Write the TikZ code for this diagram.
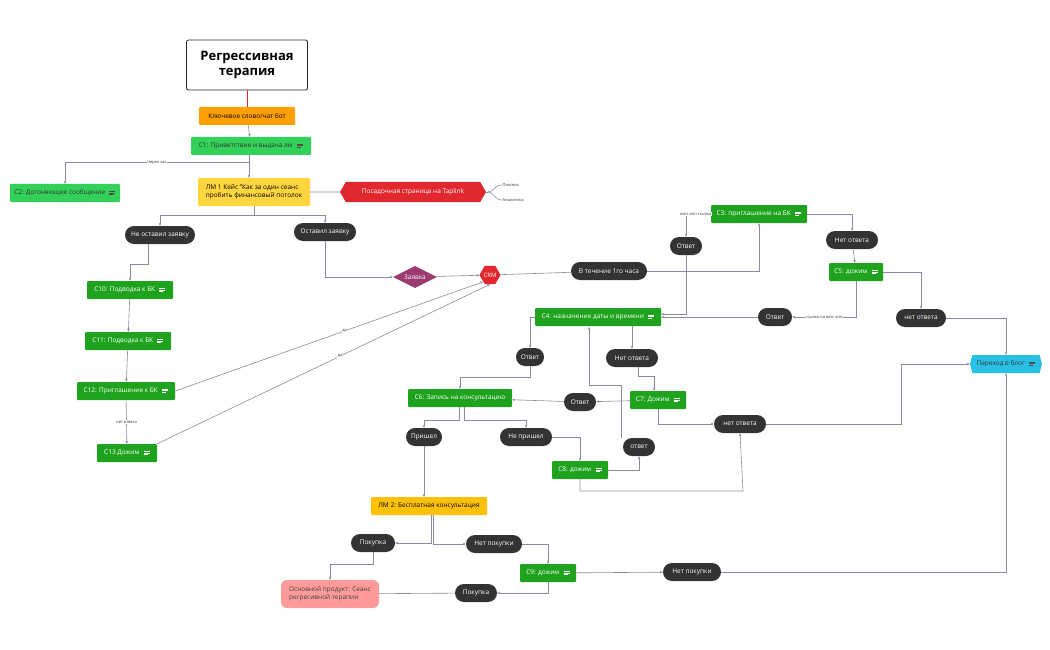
\documentclass[tikz,border=0pt]{standalone}
\usepackage{fontspec}
\setmainfont{Open Sans}
\usetikzlibrary{shapes.geometric,shapes.misc,shapes.symbols,arrows.meta,calc}
\definecolor{dg}{HTML}{1FA31F}
\definecolor{lg}{HTML}{33D15A}
\definecolor{org}{HTML}{FFA000}
\definecolor{yl}{HTML}{FFD640}
\definecolor{yl2}{HTML}{FFC107}
\definecolor{rd}{HTML}{E0282E}
\definecolor{pl}{HTML}{333333}
\definecolor{cy}{HTML}{29C0E6}
\definecolor{pk}{HTML}{FF9A9A}
\definecolor{pu}{HTML}{9B3B6F}
\definecolor{ln}{HTML}{8A8AA0}
\newcommand{\ic}[1][white]{\hspace{4pt}\tikz[baseline=0pt]{\draw[#1,line width=.5pt] (0,0.5pt)--(4pt,0.5pt) (0,2pt)--(6pt,2pt) (0,3.5pt)--(6pt,3.5pt);}}
\tikzset{
 base/.style={font=\fontsize{6.5}{8}\selectfont,inner sep=2pt,align=center},
 gbox/.style={base,fill=dg,text=white,rounded corners=1pt,minimum height=18pt,minimum width=#1},
 lbox/.style={base,fill=lg,text=black!80,rounded corners=1pt,minimum height=18pt,minimum width=#1},
 pill/.style={base,fill=pl,text=white,rounded rectangle,minimum height=18pt,minimum width=#1},
 e/.style={ln,line width=.6pt,-{Stealth[length=3pt,width=2.5pt]}},
 el/.style={ln,line width=.6pt},
 lab/.style={font=\fontsize{4}{5}\selectfont,fill=white,inner sep=.5pt,text=black!80}
}
\begin{document}
\begin{tikzpicture}[x=1pt,y=-1pt]
\useasboundingbox (0,0) rectangle (1050,650);
\node[base,draw=black!85,line width=.8pt,rounded corners=2pt,minimum width=121pt,minimum height=50pt,font=\bfseries\fontsize{13}{15}\selectfont] (title) at (247,65) {Регрессивная\\терапия};
\node[base,fill=org,rounded corners=1pt,minimum width=96pt,minimum height=18pt] (key) at (247,116) {Ключевое слово/чат бот};
\node[lbox=120pt] (c1) at (251,146) {C1: Приветствие и выдача лм\ic[black!70]};
\node[lbox=110pt] (c2) at (65,193) {C2: Догоняющее сообщение\ic[black!70]};
\node[base,fill=yl,rounded corners=1pt,minimum width=112pt,minimum height=28pt,align=left] (lm1) at (254,192) {ЛМ 1 Кейс "Как за один сеанс\\пробить финансовый потолок};
\node[base,fill=rd,text=white,signal,signal to=east and west,signal pointer angle=120,minimum width=146pt,minimum height=20pt] (tap) at (413,192) {Посадочная страница на Taplink};
\coordinate (br) at (488,192);
\node[lab,anchor=west] (pix) at (502,185) {Пиксель};
\node[lab,anchor=west] (an) at (502,200) {Аналитика};
\node[pill=74pt] (no1) at (160,235) {Не оставил заявку};
\node[pill=66pt] (yes1) at (325,232) {Оставил заявку};
\node[base,diamond,fill=pu,text=white,minimum width=44pt,minimum height=22pt,aspect=2,inner sep=0pt] (zv) at (415,277) {Заявка};
\node[base,fill=rd,text=white,regular polygon,regular polygon sides=6,minimum size=20pt,inner sep=0pt,font=\fontsize{6}{7}\selectfont] (crm) at (490,275) {CRM};
\node[pill=80pt] (hour) at (609,271) {В течение 1го часа};
\node[gbox=96pt] (c3) at (759,214) {C3: приглашение на БК\ic};
\node[pill=36pt] (o1) at (686,246) {Ответ};
\node[pill=56pt] (n1) at (852,240) {Нет ответа};
\node[gbox=54pt] (c5) at (856,272) {C5: дожим\ic};
\node[gbox=126pt] (c4) at (598,317) {C4: назначение даты и времени\ic};
\node[pill=38pt] (o2) at (775,317) {Ответ};
\node[pill=54pt] (n2) at (921,318) {нет ответа};
\node[base,fill=cy,text=black!80,signal,signal to=east and west,signal pointer angle=150,minimum width=72pt,minimum height=18pt] (blog) at (1006,364) {Переход в блог\ic[black!70]};
\node[pill=32pt] (o3) at (530,357) {Ответ};
\node[pill=56pt] (n3) at (632,358) {Нет ответа};
\node[gbox=56pt] (c7) at (658,400) {C7: Дожим\ic};
\node[pill=36pt] (o4) at (580,402) {Ответ};
\node[gbox=104pt] (c6) at (460,398) {C6: Запись на консультацию};
\node[pill=56pt] (n4) at (740,424) {нет ответа};
\node[pill=40pt] (came) at (424,437) {Пришел};
\node[pill=56pt] (nc) at (526,437) {Не пришел};
\node[pill=36pt] (o5) at (639,447) {ответ};
\node[gbox=56pt] (c8) at (580,470) {C8: дожим\ic};
\node[gbox=86pt] (c10) at (130,290) {C10: Подводка к БК\ic};
\node[gbox=86pt] (c11) at (128,341) {C11: Подводка к БК\ic};
\node[gbox=98pt] (c12) at (126,391) {C12: Приглашение к БК\ic};
\node[gbox=60pt] (c13) at (127,453) {C13 Дожим\ic};
\node[base,fill=yl2,rounded corners=1pt,minimum width=116pt,minimum height=18pt] (lm2) at (429,506) {ЛМ 2: Бесплатная консультация};
\node[pill=48pt] (buy1) at (373,543) {Покупка};
\node[pill=60pt] (nb1) at (494,544) {Нет покупки};
\node[gbox=56pt] (c9) at (548,573) {C9: дожим\ic};
\node[pill=62pt] (nb2) at (692,572) {Нет покупки};
\node[base,fill=pk,text=black!75,rounded corners=6pt,minimum width=98pt,minimum height=28pt,align=left] (main) at (330,594) {Основной продукт: Сеанс\\регресивной терапии};
\node[pill=46pt] (buy2) at (476,593) {Покупка};
% edges
\draw[rd,line width=.5pt] (title) -- (key);
\draw[e] (key) -- (c1);
\draw[e] ($(c1.south)+(-2,0)$) -- (lm1.north -| {$(c1.south)+(-2,0)$});
\draw[e] ($(c1.south)+(-2,7)$) -| (c2.north) node[lab,pos=.25] {Через час};
\draw[el] (lm1) -- (tap);
\draw[el] (tap.east) -- (br);
\draw[el] (br) .. controls (494,192) and (494,185) .. (pix.west);
\draw[el] (br) .. controls (494,192) and (494,200) .. (an.west);
\draw[e] (lm1.south) -- ++(0,9) -| (no1.north);
\draw[e] ($(lm1.south)+(0,9)$) -| (yes1.north);
\draw[e] ([xshift=-12pt]no1.south) -- ++(0,20) -| (c10.north);
\draw[e] (c10) -- (c11);
\draw[e] (c11) -- (c12);
\draw[e] (c12) -- (c13) node[lab,midway] {нет ответа};
\draw[e] (c12.east) -- (crm.south west) node[lab,pos=.55] {да};
\draw[e] (c13.north east) -- (crm.south) node[lab,pos=.55] {да};
\draw[e] (yes1.south) |- (zv.west);
\draw[e] (zv) -- (crm);
\draw[el] (crm) -- (hour);
\draw[e] (hour.east) -| (c3.south);
\draw[e] (c3.west) -| (o1.north) node[lab,pos=.3] {ватс апп ссылка};
\draw[e] (o1.south) |- ([yshift=3pt]c4.east);
\draw[e] (c3.east) -| (n1.north);
\draw[e] (n1) -- (c5);
\draw[e] (c5.south) |- (o2.east) node[lab,pos=.75] {ссылка на ватс апп};
\draw[e] (o2) -- (c4);
\draw[e] (c5.east) -| (n2.north);
\draw[e] (n2.east) -| (blog.north);
\draw[e] (c4.west) -| (o3.north);
\draw[e] ([xshift=34pt]c4.south) -- (n3.north);
\draw[e] (o3.south) -- ++(0,11) -| (c6.north);
\draw[e] ([xshift=6pt]n3.south) -- ++(0,9) -| ([xshift=-4pt]c7.north);
\draw[e] (c7) -- (o4);
\draw[e] (o4) -- (c6);
\draw[e] (c7.south) |- (n4.west);
\draw[e] (n4.east) -| (901,364) -- (blog.west);
\draw[e] ([xshift=-1pt]c6.south) -- ++(0,13) -| (came.north);
\draw[e] ([xshift=4pt]c6.south) -- ++(0,13) -| (nc.north);
\draw[e] (nc.east) -| (c8.north);
\draw[e] (c8.east) -| (o5.south);
\draw[e] ([xshift=-18pt]o5.north) |- (589,385) -- (589,327);
\draw[e] (c8.south) |- (743,491) -- (n4.south);
\draw[e] (came.south) -- (came.south |- lm2.north);
\draw[e] ([xshift=2pt]lm2.south) |- (buy1.east);
\draw[e] ([xshift=4pt]lm2.south) |- (nb1.west);
\draw[e] (nb1.east) -| (c9.north);
\draw[e] (c9) -- (nb2);
\draw[e] (nb2.east) -| (blog.south);
\draw[e] (c9.south) |- (buy2.east);
\draw[el] (buy2) -- (main);
\draw[e] (buy1.south) -- ++(0,12) -| (main.north);
\end{tikzpicture}
\end{document}
